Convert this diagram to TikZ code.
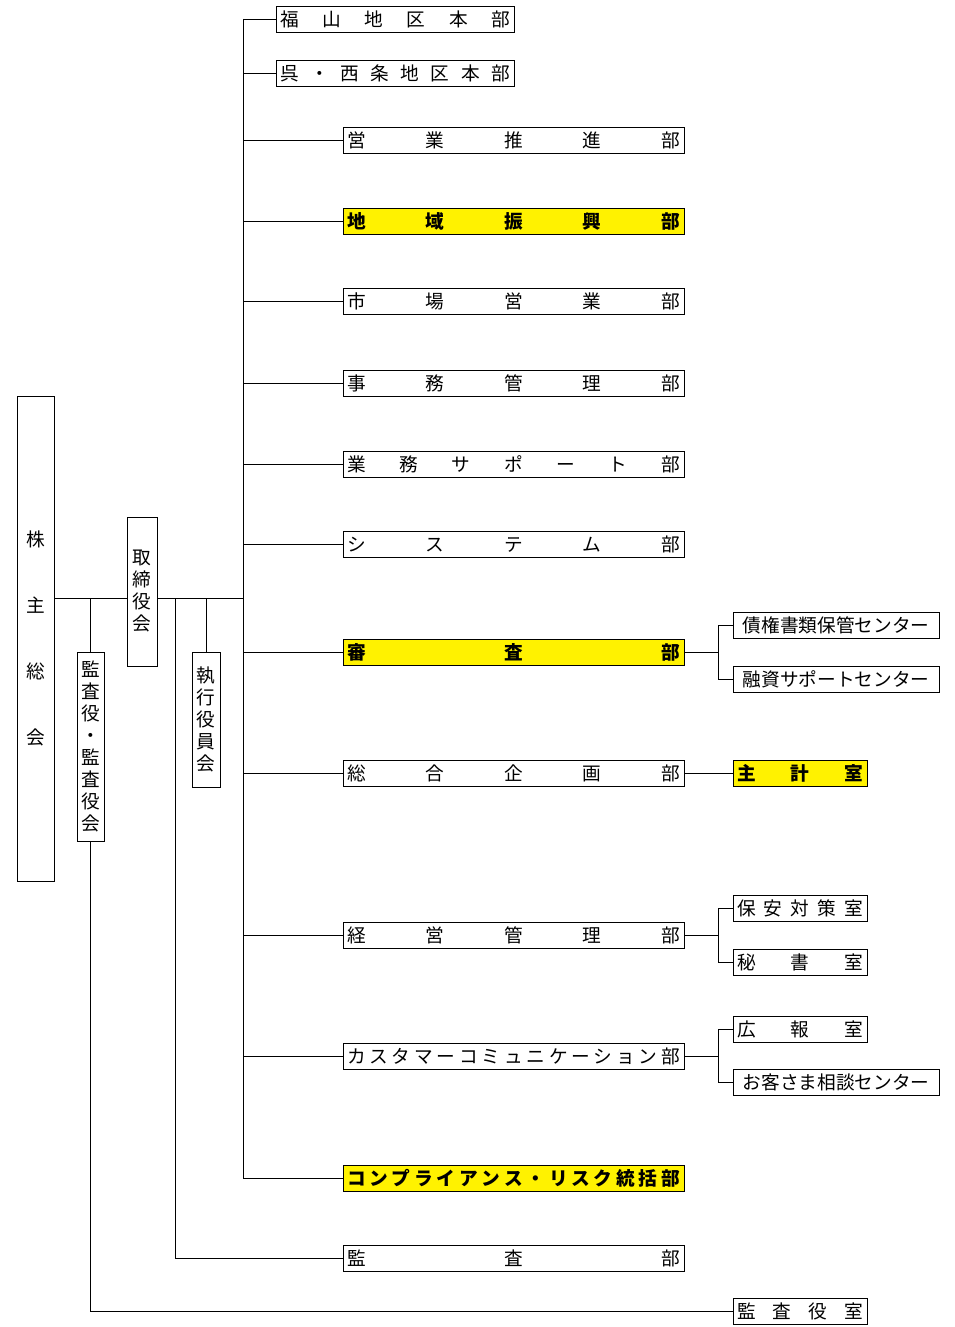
\documentclass[tikz,border=0pt]{standalone}
\usepackage{fontspec}
\setmainfont{Noto Sans CJK JP}
\usepackage{tikz}

\begin{document}
\begin{tikzpicture}[x=0.75pt,y=-0.75pt,line width=0.7pt,
 box/.style={draw,inner xsep=3pt,inner ysep=0pt,minimum height=19.5pt,font=\fontsize{14}{15}\selectfont},
 dept/.style={box,text width=249.75pt},
 hq/.style={box,text width=172.5pt},
 room/.style={box,text width=94.5pt},
 ctr/.style={box,text width=148.5pt,align=center},
 hl/.style={fill=yellow,font=\fontsize{14}{15}\selectfont\bfseries},
 vbox/.style={draw,inner sep=0pt,align=center,font=\fontsize{14}{16.5}\selectfont}]
\useasboundingbox (0,0) rectangle (955,1327);
\coordinate (sp) at (243,0);
\coordinate (rb) at (718,0);
\coordinate (j) at (0,598);
\coordinate (dv) at (175,598);
% left side
\node[vbox,minimum width=27.75pt,minimum height=363.75pt,font=\fontsize{14}{49.3}\selectfont] (kabu) at (35.5,638.5) {株\\主\\総\\会};
\node[vbox,minimum width=22.5pt,minimum height=111.75pt] (tori) at (142,591.5) {取\\締\\役\\会};
\node[vbox,minimum width=20.25pt,minimum height=141.75pt] (kansayaku) at (90.5,746.5) {監\\査\\役\\・\\監\\査\\役\\会};
\node[vbox,minimum width=21pt,minimum height=101.25pt] (shikko) at (206,719.5) {執\\行\\役\\員\\会};
% head offices
\node[hq] (hq1) at (395,19) {福\hfill 山\hfill 地\hfill 区\hfill 本\hfill 部};
\node[hq] (hq2) at (395,73) {呉\hfill ・\hfill 西\hfill 条\hfill 地\hfill 区\hfill 本\hfill 部};
% departments
\node[dept] (d1) at (513.5,140) {営\hfill 業\hfill 推\hfill 進\hfill 部};
\node[dept,hl] (d2) at (513.5,221) {地\hfill 域\hfill 振\hfill 興\hfill 部};
\node[dept] (d3) at (513.5,301) {市\hfill 場\hfill 営\hfill 業\hfill 部};
\node[dept] (d4) at (513.5,383) {事\hfill 務\hfill 管\hfill 理\hfill 部};
\node[dept] (d5) at (513.5,464) {業\hfill 務\hfill サ\hfill ポ\hfill ー\hfill ト\hfill 部};
\node[dept] (d6) at (513.5,544) {シ\hfill ス\hfill テ\hfill ム\hfill 部};
\node[dept,hl] (d7) at (513.5,652) {審\hfill 査\hfill 部};
\node[dept] (d8) at (513.5,773) {総\hfill 合\hfill 企\hfill 画\hfill 部};
\node[dept] (d9) at (513.5,935) {経\hfill 営\hfill 管\hfill 理\hfill 部};
\node[dept] (d10) at (513.5,1056) {カ\hfill ス\hfill タ\hfill マ\hfill ー\hfill コ\hfill ミ\hfill ュ\hfill ニ\hfill ケ\hfill ー\hfill シ\hfill ョ\hfill ン\hfill 部};
\node[dept,hl] (d11) at (513.5,1178) {コ\hfill ン\hfill プ\hfill ラ\hfill イ\hfill ア\hfill ン\hfill ス\hfill ・\hfill リ\hfill ス\hfill ク\hfill 統\hfill 括\hfill 部};
\node[dept] (kansabu) at (513.5,1258) {監\hfill 査\hfill 部};
% offices on the right
\node[ctr] (c1) at (836,625) {債権書類保管センター};
\node[ctr] (c2) at (836,679) {融資サポートセンター};
\node[room,hl] (shukei) at (800,773) {主\hfill 計\hfill 室};
\node[room] (hoan) at (800,908) {保\hfill 安\hfill 対\hfill 策\hfill 室};
\node[room] (hisho) at (800,962) {秘\hfill 書\hfill 室};
\node[room] (koho) at (800,1029) {広\hfill 報\hfill 室};
\node[ctr] (okyaku) at (836,1082) {お客さま相談センター};
\node[room] (kansashitsu) at (800,1311) {監\hfill 査\hfill 役\hfill 室};
% connectors
\draw (sp |- hq1) -- (sp |- d11);
\foreach \n in {hq1,hq2,d1,d2,d3,d4,d5,d6,d7,d8,d9,d10,d11}{\draw (sp |- \n) -- (\n.west);};
\draw (kabu.east |- j) -- (tori.west |- j);
\draw (tori.east |- j) -- (sp |- j);
\draw (kansayaku.north) -- (kansayaku.north |- j);
\draw (shikko.north) -- (shikko.north |- j);
\draw (dv) |- (kansabu.west);
\draw (kansayaku.south) |- (kansashitsu.west);
\draw (d8.east) -- (shukei.west);
\draw (d7.east) -- (rb |- d7);
\draw (c1.west) -- (rb |- c1) -- (rb |- c2) -- (c2.west);
\draw (d9.east) -- (rb |- d9);
\draw (hoan.west) -- (rb |- hoan) -- (rb |- hisho) -- (hisho.west);
\draw (d10.east) -- (rb |- d10);
\draw (koho.west) -- (rb |- koho) -- (rb |- okyaku) -- (okyaku.west);
\end{tikzpicture}
\end{document}
